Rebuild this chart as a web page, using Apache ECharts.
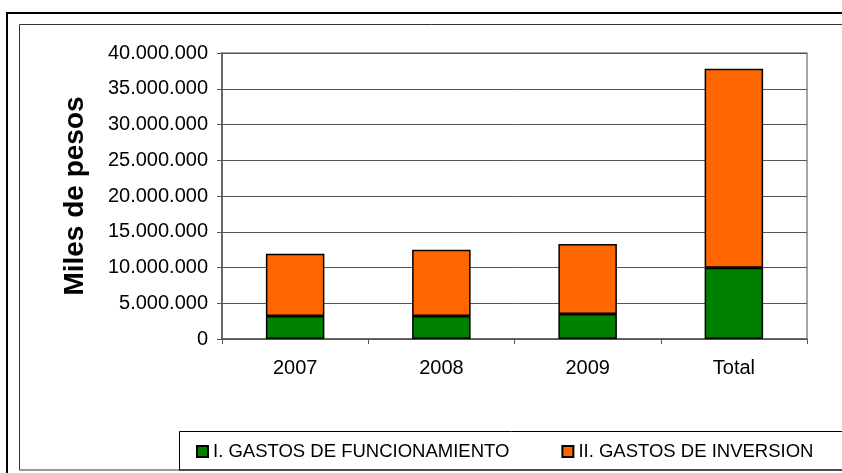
<!DOCTYPE html>
<html>
<head>
<meta charset="UTF-8">
<title></title>
<style>
  html, body { margin: 0; padding: 0; background: #fff; }
  #chart { width: 842px; height: 473px; }
</style>
</head>
<body>
<div id="chart"></div>
<script src="https://cdn.jsdelivr.net/npm/echarts@6/dist/echarts.min.js"></script>
<script>
var categories = ['2007', '2008', '2009', 'Total'];
var funcionamiento = [3220000, 3220000, 3500000, 9950000]; /* I. Gastos de funcionamiento */
var inversion = [8700000, 9250000, 9800000, 27850000]; /* II. Gastos de inversion */
var seriesNames = ['I. GASTOS DE FUNCIONAMIENTO', 'II. GASTOS DE INVERSION'];

function miles(v) {
  return String(Math.round(v)).replace(/\B(?=(\d{3})+(?!\d))/g, '.');
}

var myChart = echarts.init(document.getElementById('chart'));
myChart.setOption({
  animation: false,
  textStyle: { fontFamily: 'Liberation Sans, Arial, sans-serif' },
  graphic: [
    { type: 'rect', shape: { x: 7, y: 13, width: 850, height: 480 }, style: { fill: 'none', stroke: '#000', lineWidth: 2 } },
    { type: 'rect', shape: { x: 19.5, y: 24.5, width: 840, height: 445.5 }, style: { fill: 'none', stroke: '#333', lineWidth: 1 } },
    { type: 'rect', shape: { x: 179.5, y: 431.5, width: 680, height: 38.5 }, style: { fill: 'none', stroke: '#000', lineWidth: 1 } }
  ],
  grid: { left: 222, right: 35, top: 53, bottom: 134, show: true, borderColor: '#888', borderWidth: 1.5 },
  legend: {
    left: 191, top: 437,
    itemWidth: 11, itemHeight: 11, itemGap: 52,
    textStyle: { fontSize: 18.5, color: '#000' },
    data: [
      { name: seriesNames[0], icon: 'rect' },
      { name: seriesNames[1], icon: 'rect' }
    ]
  },
  xAxis: {
    type: 'category',
    data: categories,
    axisLine: { lineStyle: { color: '#555', width: 1.5 } },
    axisTick: { show: true, length: 5, lineStyle: { color: '#555' } },
    axisLabel: { color: '#000', fontSize: 20, margin: 19 }
  },
  yAxis: {
    type: 'value',
    min: 0, max: 40000000, interval: 5000000,
    name: 'Miles de pesos',
    nameLocation: 'middle',
    nameGap: 133,
    nameTextStyle: { fontSize: 28, fontWeight: 'bold', color: '#000' },
    axisLine: { show: true, lineStyle: { color: '#555', width: 1.5 } },
    axisTick: { show: true, length: 5, lineStyle: { color: '#555' } },
    splitLine: { lineStyle: { color: '#555', width: 1 } },
    axisLabel: { color: '#000', fontSize: 20, margin: 14, formatter: miles }
  },
  series: [{
    name: seriesNames[0],
    type: 'bar',
    stack: 'gastos',
    barWidth: '40%',
    data: funcionamiento,
    itemStyle: { color: '#008000', borderColor: '#000', borderWidth: 1.5 }
  }, {
    name: seriesNames[1],
    type: 'bar',
    stack: 'gastos',
    barWidth: '40%',
    data: inversion,
    itemStyle: { color: '#FF6600', borderColor: '#000', borderWidth: 1.5 }
  }]
});
</script>
</body>
</html>
